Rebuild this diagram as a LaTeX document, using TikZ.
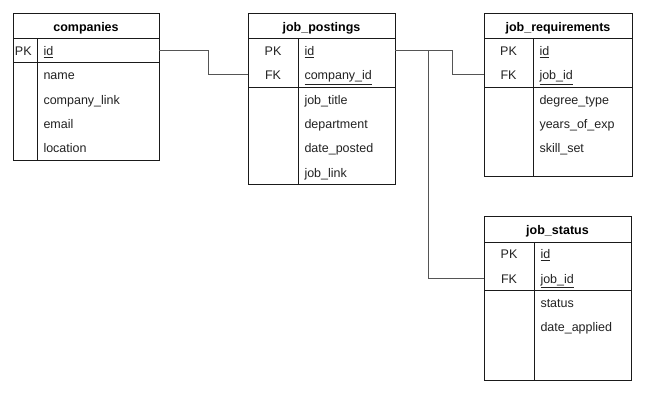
\documentclass[tikz,border=0pt]{standalone}
\usepackage{fontspec}
\setmainfont{Liberation Sans}
\definecolor{boxc}{HTML}{1A1A1A}
\definecolor{linkc}{HTML}{555555}
\definecolor{txtc}{HTML}{222222}
\begin{document}
\begin{tikzpicture}[x=1pt,y=-1pt,line width=1pt,
  tbox/.style={draw=boxc,inner sep=0pt,outer sep=0pt,anchor=north west},
  sep/.style={draw=boxc,line width=1pt},
  hdr/.style={anchor=base,inner sep=0pt,text=black,font=\bfseries\fontsize{12.5}{14}\selectfont},
  fld/.style={anchor=base west,inner sep=0pt,text=txtc,font=\fontsize{12.5}{14}\selectfont},
  keyc/.style={anchor=base,inner sep=0pt,text=txtc,font=\fontsize{12.5}{14}\selectfont},
  link/.style={draw=linkc,line width=1pt}]
\useasboundingbox (0,0) rectangle (646,403);
\fill[white] (0,0) rectangle (646,403);

% ---------- companies ----------
\node[tbox,minimum width=146pt,minimum height=147pt] (comp) at (13,14) {};
\draw[sep] (13,39) -- (159,39);
\draw[sep] (13,63) -- (159,63);
\draw[sep] (37,39) -- (37,161);
\node[hdr] (comph) at (86,31.5) {companies};
\node[fld] (comppk) at (14.5,56) {PK};
\node[fld] (compid) at (43,56) {\underline{id}};
\node[fld] (compname) at (43,80) {name};
\node[fld] (complink) at (43,104.5) {company\_link};
\node[fld] (compemail) at (43,129) {email};
\node[fld] (comploc) at (43,153) {location};

% ---------- job_postings ----------
\node[tbox,minimum width=147pt,minimum height=171pt] (jp) at (248,14) {};
\draw[sep] (248,39) -- (395,39);
\draw[sep] (248,88) -- (395,88);
\draw[sep] (298,39) -- (298,185);
\node[hdr] (jph) at (321.5,31.5) {job\_postings};
\node[keyc] (jppk) at (273,56) {PK};
\node[keyc] (jpfk) at (273,80) {FK};
\node[fld] (jpid) at (304,56) {\underline{id}};
\node[fld] (jpcid) at (304,80) {\underline{company\_id}};
\node[fld] (jptitle) at (304,104.5) {job\_title};
\node[fld] (jpdep) at (304,129) {department};
\node[fld] (jpdate) at (304,153) {date\_posted};
\node[fld] (jplink) at (304,178) {job\_link};

% ---------- job_requirements ----------
\node[tbox,minimum width=148pt,minimum height=163pt] (jr) at (484,14) {};
\draw[sep] (484,39) -- (632,39);
\draw[sep] (484,88) -- (632,88);
\draw[sep] (533,39) -- (533,177);
\node[hdr] (jrh) at (558,31.5) {job\_requirements};
\node[keyc] (jrpk) at (508.5,56) {PK};
\node[keyc] (jrfk) at (508.5,80) {FK};
\node[fld] (jrid) at (539,56) {\underline{id}};
\node[fld] (jrjid) at (539,80) {\underline{job\_id}};
\node[fld] (jrdeg) at (539,104.5) {degree\_type};
\node[fld] (jryrs) at (539,129) {years\_of\_exp};
\node[fld] (jrskill) at (539,153) {skill\_set};

% ---------- job_status ----------
\node[tbox,minimum width=147pt,minimum height=164pt] (js) at (484,217) {};
\draw[sep] (484,243) -- (631,243);
\draw[sep] (484,291) -- (631,291);
\draw[sep] (534,243) -- (534,381);
\node[hdr] (jsh) at (557.5,234.5) {job\_status};
\node[keyc] (jspk) at (509,259) {PK};
\node[keyc] (jsfk) at (509,283.5) {FK};
\node[fld] (jsid) at (540,259) {\underline{id}};
\node[fld] (jsjid) at (540,283.5) {\underline{job\_id}};
\node[fld] (jsstat) at (540,307.5) {status};
\node[fld] (jsdate) at (540,332) {date\_applied};

% ---------- connector end points ----------
\coordinate (compR) at (159,51);
\coordinate (jpL) at (248,75);
\coordinate (jpR) at (395,51);
\coordinate (jrL) at (484,75);
\coordinate (jsL) at (484,279);
\coordinate (split) at (428,51);

\draw[link] (compR) -- (208,51) |- (jpL);
\draw[link] (jpR) -- (452,51) |- (jrL);
\draw[link] (split) |- (jsL);
\end{tikzpicture}
\end{document}
